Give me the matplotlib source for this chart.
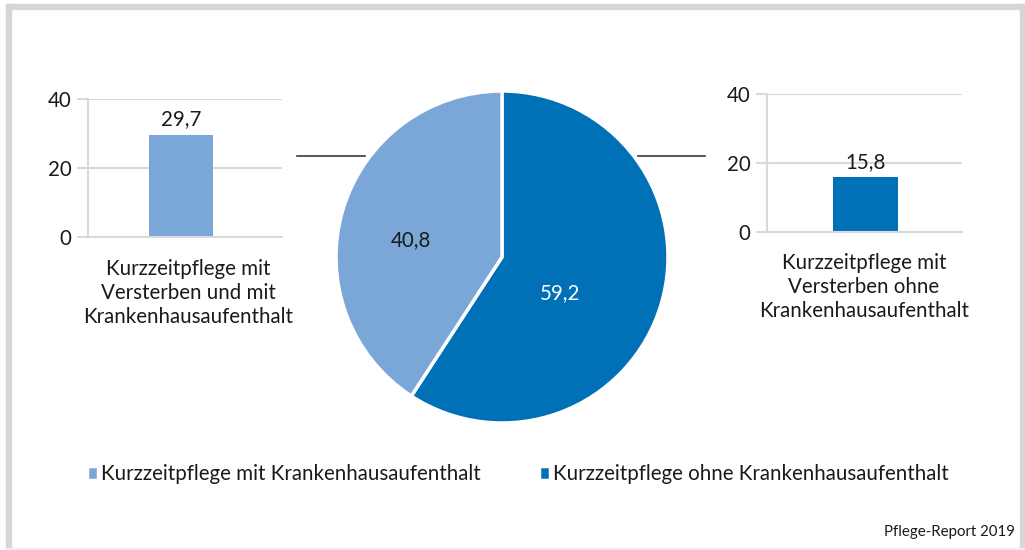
import numpy as np
import matplotlib
matplotlib.use("Agg")
import matplotlib.pyplot as plt
from matplotlib.patches import Rectangle
from matplotlib.lines import Line2D

plt.rcParams["font.family"] = ["Lato", "DejaVu Sans"]

# shares of short-term care stays (pie) and deaths within each group (bars)
pie_labels = ["Kurzzeitpflege ohne Krankenhausaufenthalt",
              "Kurzzeitpflege mit Krankenhausaufenthalt"]
pie_values = [59.2, 40.8]

left_category = "Kurzzeitpflege mit\nVersterben und mit\nKrankenhausaufenthalt"
left_value = [29.7]
right_category = "Kurzzeitpflege mit\nVersterben ohne\nKrankenhausaufenthalt"
right_value = [15.8]

bar_ticks = [0, 20, 40]
source_note = "Pflege-Report 2019"

DARK_BLUE = "#0071b6"
LIGHT_BLUE = "#7ba6d8"
GRID = "#d9d9d9"
TEXT = "#1a1a1a"
FS = 14.8

W, H = 1025, 550


def fx(x):
    return x / W


def fy(y):
    return 1 - y / H


def fig_rect(ax_left, ax_top, ax_right, ax_bottom):
    return [fx(ax_left), fy(ax_bottom), fx(ax_right) - fx(ax_left),
            fy(ax_top) - fy(ax_bottom)]


def bar_panel(fig, rect, values, color, xlim):
    ax = fig.add_axes(rect)
    bars = ax.bar([0], values, width=1.0, color=color)
    ax.set_xlim(*xlim)
    ax.set_ylim(0, 40)
    ax.set_yticks(bar_ticks)
    ax.set_yticklabels([str(t) for t in bar_ticks], fontsize=FS, color=TEXT)
    ax.tick_params(axis="y", length=8, width=1.5, color=GRID, pad=4)
    ax.set_xticks([])
    ax.grid(axis="y", color=GRID, linewidth=1.5)
    ax.set_axisbelow(True)
    for side in ["top", "right"]:
        ax.spines[side].set_visible(False)
    ax.spines["left"].set_color(GRID)
    ax.spines["left"].set_linewidth(1.5)
    ax.spines["bottom"].set_color(GRID)
    ax.spines["bottom"].set_linewidth(1.5)
    for b, v in zip(bars, values):
        ax.annotate(f"{v:.1f}".replace(".", ","),
                    (b.get_x() + b.get_width() / 2, b.get_height()),
                    xytext=(0, 4), textcoords="offset points",
                    ha="center", va="bottom", fontsize=FS, color=TEXT)
    return ax


fig = plt.figure(figsize=(W / 100, H / 100), dpi=100)

# outer frame
fig.patches.append(Rectangle((fx(6), fy(549)), fx(5), fy(4) - fy(549),
                             transform=fig.transFigure, color="#d6d6d6", zorder=0))
fig.patches.append(Rectangle((fx(6), fy(9)), fx(1024) - fx(6), fy(4) - fy(9),
                             transform=fig.transFigure, color="#d6d6d6", zorder=0))
fig.patches.append(Rectangle((fx(1020), fy(549)), fx(4), fy(4) - fy(549),
                             transform=fig.transFigure, color="#d6d6d6", zorder=0))
fig.patches.append(Rectangle((fx(6), fy(550)), fx(1024) - fx(6), fy(548) - fy(550),
                             transform=fig.transFigure, color="#eeeeee", zorder=0))

# left and right bar panels
bar_panel(fig, fig_rect(88, 99, 282, 237), left_value, LIGHT_BLUE, (-1.44, 1.56))
bar_panel(fig, fig_rect(767, 94, 962, 232), right_value, DARK_BLUE, (-1.515, 1.485))

fig.text(fx(188), fy(293), left_category, ha="center", va="center",
         fontsize=FS, color=TEXT, linespacing=1.25)
fig.text(fx(864), fy(287), right_category, ha="center", va="center",
         fontsize=FS, color=TEXT, linespacing=1.25)

# pie in the middle
ax_pie = fig.add_axes(fig_rect(336, 91, 668, 423))
wedges, _ = ax_pie.pie(pie_values, colors=[DARK_BLUE, LIGHT_BLUE],
                       startangle=90, counterclock=False, radius=1.0,
                       wedgeprops=dict(edgecolor="white", linewidth=2.5))
ax_pie.set_xlim(-1, 1)
ax_pie.set_ylim(-1, 1)
ax_pie.set_aspect("equal")
ax_pie.axis("off")

label_polar = [(0.41, -31.8), (0.56, 169.5)]
label_colors = ["white", TEXT]
for v, (r, ang), c in zip(pie_values, label_polar, label_colors):
    a = np.deg2rad(ang)
    ax_pie.text(r * np.cos(a), r * np.sin(a), f"{v:.1f}".replace(".", ","),
                ha="center", va="center", fontsize=FS, color=c)

# connector lines between pie and bar panels
fig.add_artist(Line2D([fx(297), fx(365)], [fy(156), fy(156)],
                      transform=fig.transFigure, color="#3a3a3a", linewidth=1.2))
fig.add_artist(Line2D([fx(638), fx(705)], [fy(156), fy(156)],
                      transform=fig.transFigure, color="#3a3a3a", linewidth=1.2))

# legend (lighter slice listed first)
fig.legend([wedges[1], wedges[0]], [pie_labels[1], pie_labels[0]],
           loc="center left", bbox_to_anchor=(fx(87), fy(474)), ncol=2,
           frameon=False, fontsize=FS, handlelength=0.55, handleheight=0.7,
           handletextpad=0.15, columnspacing=2.8, borderpad=0, borderaxespad=0,
           labelcolor=TEXT)

fig.text(fx(1015), fy(532), source_note, ha="right", va="center",
         fontsize=10.8, color=TEXT)

fig.savefig("out.png", dpi=100)
